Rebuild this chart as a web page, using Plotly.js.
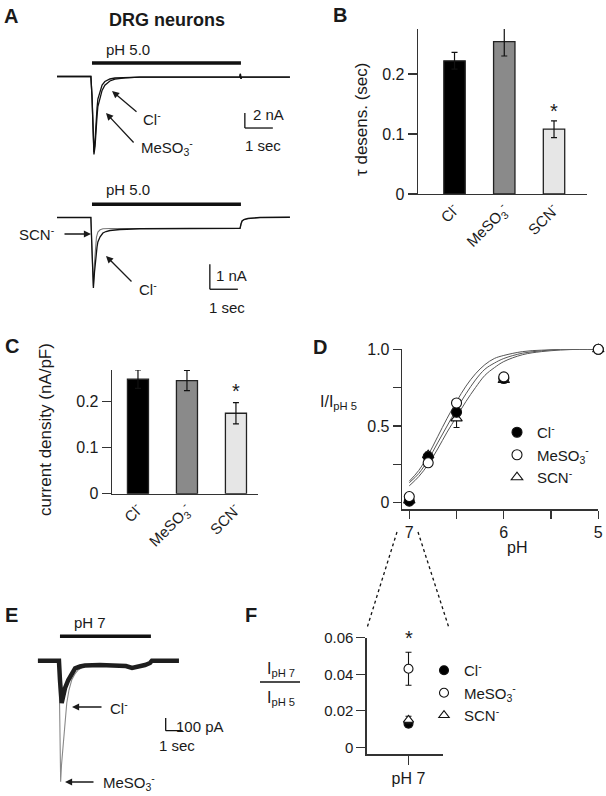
<!DOCTYPE html>
<html>
<head>
<meta charset="utf-8">
<script src="https://cdn.plot.ly/plotly-3.0.1.min.js"></script>
<style>
  html, body { margin: 0; padding: 0; background: #fff; }
  #fig { width: 606px; height: 796px; }
</style>
</head>
<body>
<div id="fig"></div>
<script>
// ---- data ----
const ions = ['Cl<sup>-</sup>', 'MeSO<sub>3</sub><sup>-</sup>', 'SCN<sup>-</sup>'];

// A, top: pH 5.0 response (s, nA)
const tA1 = [0, 1.21, 1.25, 1.29, 1.32, 1.36, 1.39, 1.43, 1.46, 1.54, 1.61, 1.71, 1.89, 2.07, 2.43, 2.96, 6.53, 6.55, 6.57, 6.6, 8.32];
const iA1Cl = [0, 0, -2.5, -7.1, -10.1, -8.5, -6.1, -4.2, -3.0, -1.8, -1.13, -0.67, -0.33, -0.2, -0.11, -0.07, -0.07, 0.35, -0.3, -0.07, -0.07];
const iA1Mes = [0, 0, -2.7, -7.5, -10.4, -9.3, -7.0, -5.3, -4.0, -2.7, -1.85, -1.15, -0.6, -0.35, -0.17, -0.09, -0.07, 0.35, -0.3, -0.07, -0.07];

// A, bottom (s, nA)
const tA2Cl = [0, 1.21, 1.25, 1.30, 1.34, 1.39, 1.43, 1.46, 1.54, 1.64, 1.75, 1.89, 2.25, 2.96, 4.04, 6.54, 6.57, 6.61, 6.68, 6.82, 7.25, 8.32];
const iA2Cl = [0, 0, -1.3, -2.82, -2.18, -1.5, -1.18, -0.98, -0.77, -0.62, -0.56, -0.52, -0.48, -0.45, -0.44, -0.43, -0.26, -0.14, -0.08, -0.04, 0, 0.01];
const tA2Scn = [0, 1.21, 1.25, 1.30, 1.34, 1.38, 1.41, 1.46, 1.54, 1.64, 1.89, 6.54, 6.57, 6.61, 6.68, 6.82, 7.25, 8.32];
const iA2Scn = [0, 0, -1.3, -2.74, -1.78, -1.14, -0.78, -0.58, -0.49, -0.45, -0.44, -0.43, -0.26, -0.14, -0.08, -0.04, 0, 0.01];
const phOnA = [1.25, 6.57];

// B: tau desensitisation (s)
const tauMean = [0.222, 0.254, 0.108];
const tauSem = [0.014, 0.024, 0.014];

// C: current density (nA/pF)
const densMean = [0.249, 0.246, 0.175];
const densSem = [0.02, 0.022, 0.023];

// D: pH dependence
const phPts = [7, 6.8, 6.5, 6, 5];
const dCl = [0.01, 0.30, 0.59, 0.81, 1.0];
const dClErr = [0.005, 0.02, 0.03, 0.02, 0];
const dMes = [0.04, 0.26, 0.65, 0.82, 1.0];
const dMesErr = [0.008, 0.02, 0.02, 0.015, 0];
const dScn = [0.015, 0.31, 0.55, 0.80, 1.0];
const dScnErr = [0.005, 0.02, 0.06, 0.02, 0];
const phFit = [7, 6.9, 6.8, 6.7, 6.6, 6.5, 6.4, 6.3, 6.2, 6.1, 6.0, 5.8, 5.6, 5.4, 5.2, 5.0];
const fit1 = [0.14, 0.21, 0.31, 0.43, 0.55, 0.66, 0.76, 0.84, 0.90, 0.94, 0.96, 0.985, 0.995, 1, 1, 1];
const fit2 = [0.13, 0.19, 0.28, 0.39, 0.50, 0.61, 0.71, 0.80, 0.87, 0.91, 0.94, 0.975, 0.99, 1, 1, 1];
const fit3 = [0.11, 0.17, 0.25, 0.35, 0.46, 0.56, 0.66, 0.75, 0.83, 0.88, 0.92, 0.965, 0.985, 0.995, 1, 1];

// E: pH 7 response (s, pA)
const tECl = [0, 1.25, 1.31, 1.41, 1.49, 1.61, 1.8, 2.02, 2.2, 2.49, 2.78, 3.66, 4.72, 5.19, 5.55, 5.9, 6.31, 6.61, 6.72, 8.31];
const iECl = [0, 0, -152, -333, -285, -215, -152, -97, -61, -46, -38, -34, -34, -42, -57, -50, -34, -18, 0, 0];
const tEMes = [0, 1.25, 1.30, 1.35, 1.40, 1.51, 1.61, 1.71, 1.84, 2.0, 2.19, 2.37, 2.78, 3.66, 4.72, 5.19, 5.55, 5.9, 6.31, 6.61, 6.72, 8.31];
const iEMes = [0, 0, -467, -953, -821, -624, -451, -333, -231, -152, -105, -74, -42, -34, -34, -42, -57, -50, -34, -18, 0, 0];
const phOnE = [1.31, 6.66];

// F: I pH7 / I pH5
const fMean = [0.013, 0.043, 0.015];
const fSem = [0.002, 0.009, 0.002];

// ---- layout helpers (pixel -> paper) ----
const W = 606, H = 796;
const px = x => x / W;
const py = y => 1 - y / H;
const domX = (a, b) => [a / W, b / W];
const domY = (top, bot) => [1 - bot / H, 1 - top / H];
const FONT = '"Liberation Sans", Arial, sans-serif';
const INK = '#1a1a1a';

function lab(text, x, y, size, opts) {
  return Object.assign({
    text: text, x: px(x), y: py(y), xref: 'paper', yref: 'paper',
    xanchor: 'center', yanchor: 'middle',
    showarrow: false, font: { size: size || 15, color: INK }
  }, opts || {});
}
function arrow(x, y, ax, ay) {
  return {
    text: '', x: px(x), y: py(y), xref: 'paper', yref: 'paper',
    showarrow: true, ax: ax, ay: ay, arrowhead: 2, arrowsize: 1.1,
    arrowwidth: 1.3, arrowcolor: INK
  };
}
function star(xa, ya, x, y, shift) {
  return { text: '*', x: x, y: y, xref: xa, yref: ya, xanchor: 'center', yanchor: 'middle',
    showarrow: false, font: { size: 20, color: INK }, yshift: shift };
}

const traces = [];
const trace = (x, y, xa, ya, color, width) => ({
  x: x, y: y, xaxis: xa, yaxis: ya, type: 'scatter', mode: 'lines',
  line: { color: color, width: width }, showlegend: false, hoverinfo: 'skip'
});

// A
traces.push(trace(tA1, iA1Mes, 'x', 'y', '#111', 1.3));
traces.push(trace(tA1, iA1Cl, 'x', 'y', '#111', 1.3));
traces.push(trace(tA2Scn, iA2Scn, 'x2', 'y2', '#777', 1.1));
traces.push(trace(tA2Cl, iA2Cl, 'x2', 'y2', '#111', 1.3));

// B, C bars
const barColors = ['#000000', '#8a8a8a', '#e6e6e6'];
function bars(mean, sem, xa, ya) {
  return {
    type: 'bar', x: [0, 1, 2], y: mean, xaxis: xa, yaxis: ya, width: 0.43,
    marker: { color: barColors, line: { color: '#222', width: 1.3 } },
    error_y: { type: 'data', array: sem, color: '#111', thickness: 1.2, width: 3 },
    showlegend: false, hoverinfo: 'skip', cliponaxis: false
  };
}
traces.push(bars(tauMean, tauSem, 'x3', 'y3'));
traces.push(bars(densMean, densSem, 'x4', 'y4'));

// D fits
[fit1, fit2, fit3].forEach(f => {
  const t = trace(phFit, f, 'x5', 'y5', '#555', 1);
  t.line.shape = 'spline';
  traces.push(t);
});
const sym = [
  { symbol: 'circle', color: '#000' },
  { symbol: 'circle', color: '#fff' },
  { symbol: 'triangle-up', color: '#fff' }
];
function pts(x, y, err, i, xa, ya, legend, size) {
  return {
    type: 'scatter', mode: 'markers', x: x, y: y, xaxis: xa, yaxis: ya,
    name: ions[i], legend: legend, legendrank: i + 1, cliponaxis: false, hoverinfo: 'skip',
    marker: { symbol: sym[i].symbol, color: sym[i].color, size: size, line: { color: '#111', width: 1.1 } },
    error_y: { type: 'data', array: err, color: '#111', thickness: 1.1, width: 3 }
  };
}
traces.push(pts(phPts, dScn, dScnErr, 2, 'x5', 'y5', 'legend', 10));
traces.push(pts(phPts, dCl, dClErr, 0, 'x5', 'y5', 'legend', 10));
traces.push(pts(phPts, dMes, dMesErr, 1, 'x5', 'y5', 'legend', 10));

// E
traces.push(trace(tEMes, iEMes, 'x6', 'y6', '#888', 1.1));
traces.push(trace(tECl, iECl, 'x6', 'y6', '#1e1e1e', 4.5));

// F
[0, 2, 1].forEach(i => {
  traces.push(pts([0], [fMean[i]], [fSem[i]], i, 'x7', 'y7', 'legend2', 9));
});

// ---- axes ----
const hidden = (dom, range) => ({ domain: dom, range: range, visible: false, fixedrange: true });
const lineAx = {
  showline: true, linecolor: '#333', linewidth: 1.3, ticks: 'outside', ticklen: 9,
  tickcolor: '#333', tickwidth: 1.3, showgrid: false, zeroline: false,
  tickfont: { size: 16, color: INK }
};
const ax = (o) => Object.assign({}, lineAx, o);

const layout = {
  width: W, height: H, margin: { l: 0, r: 0, t: 0, b: 0 },
  paper_bgcolor: '#fff', plot_bgcolor: 'rgba(0,0,0,0)',
  font: { family: FONT, color: INK, size: 15 },
  xaxis: Object.assign(hidden(domX(57, 300), [0, 8.68]), { anchor: 'y' }),
  yaxis: Object.assign(hidden(domY(55, 170), [-12.47, 2.87]), { anchor: 'x' }),
  xaxis2: Object.assign(hidden(domX(57, 300), [0, 8.68]), { anchor: 'y2' }),
  yaxis2: Object.assign(hidden(domY(195, 300), [-3.3, 0.9]), { anchor: 'x2' }),
  xaxis3: ax({ domain: domX(418, 587), range: [-0.734, 2.663], anchor: 'y3', ticks: '',
    tickvals: [0, 1, 2], ticktext: ions, tickangle: -45, tickfont: { size: 15, color: INK } }),
  yaxis3: ax({ domain: domY(29, 194), range: [0, 0.275], anchor: 'x3',
    tickvals: [0, 0.1, 0.2], ticktext: ['0', '0.1', '0.2'] }),
  xaxis4: ax({ domain: domX(112, 258), range: [-0.53, 2.45], anchor: 'y4', ticks: '',
    tickvals: [0, 1, 2], ticktext: ions, tickangle: -45, tickfont: { size: 15, color: INK } }),
  yaxis4: ax({ domain: domY(370, 493.7), range: [0, 0.269], anchor: 'x4',
    tickvals: [0, 0.1, 0.2], ticktext: ['0', '0.1', '0.2'] }),
  xaxis5: ax({ domain: domX(402, 598.3), range: [7.077, 5.0], anchor: 'y5', ticklen: 8,
    tickvals: [7, 6.5, 6, 5.5, 5], ticktext: ['7', '', '6', '', '5'] }),
  yaxis5: ax({ domain: domY(349.3, 509.3), range: [-0.043, 1.0], anchor: 'x5', ticklen: 8,
    tickvals: [0, 0.25, 0.5, 0.75, 1], ticktext: ['0', '', '0.5', '', '1.0'] }),
  xaxis6: Object.assign(hidden(domX(37.7, 190), [0, 8.96]), { anchor: 'y6' }),
  yaxis6: Object.assign(hidden(domY(625, 790), [-1018, 281]), { anchor: 'x6' }),
  xaxis7: ax({ domain: domX(366.7, 442.7), range: [-0.55, 0.45], anchor: 'y7',
    tickvals: [0], ticktext: ['pH 7'] }),
  yaxis7: ax({ domain: domY(637.7, 754.3), range: [-0.0038, 0.06], anchor: 'x7',
    tickvals: [0, 0.02, 0.04, 0.06], ticktext: ['0', '0.02', '0.04', '0.06'], tickfont: { size: 15, color: INK } }),
  legend: { x: px(497), y: py(416), xanchor: 'left', yanchor: 'top', bgcolor: 'rgba(0,0,0,0)',
    font: { size: 15, color: INK }, tracegroupgap: 0 },
  legend2: { x: px(424), y: py(654), xanchor: 'left', yanchor: 'top', bgcolor: 'rgba(0,0,0,0)',
    font: { size: 15, color: INK }, tracegroupgap: 0 },
  showlegend: true
};

// ---- stimulus bars, scale bars, connectors ----
const seg = (xr, yr, x0, y0, x1, y1, w, dash) => ({
  type: 'line', xref: xr, yref: yr, x0: x0, y0: y0, x1: x1, y1: y1,
  line: { color: '#111', width: w, dash: dash || 'solid' }
});
layout.shapes = [
  seg('x', 'y', phOnA[0], 1.8, phOnA[1], 1.8, 3.5),
  seg('x', 'y', 6.71, -4.87, 6.71, -6.87, 1.3),
  seg('x', 'y', 6.71, -6.87, 7.71, -6.87, 1.3),
  seg('x2', 'y2', phOnA[0], 0.53, phOnA[1], 0.53, 3.5),
  seg('x2', 'y2', 5.46, -1.87, 5.46, -2.87, 1.3),
  seg('x2', 'y2', 5.46, -2.87, 6.46, -2.87, 1.3),
  seg('x6', 'y6', phOnE[0], 192, phOnE[1], 192, 3.5),
  seg('x6', 'y6', 7.53, -451, 7.53, -551, 1.3),
  seg('x6', 'y6', 7.53, -551, 8.53, -551, 1.3),
  seg('paper', 'paper', px(397), py(532), px(367), py(628), 1.3, 'dot'),
  seg('paper', 'paper', px(418), py(532), px(449), py(628), 1.3, 'dot'),
  seg('paper', 'paper', px(260), py(682), px(300), py(682), 1.3)
];

// ---- text ----
const bold = s => '<b>' + s + '</b>';
layout.annotations = [
  lab(bold('A'), 11, 16, 20), lab(bold('B'), 340, 15, 20), lab(bold('C'), 12, 346, 20),
  lab(bold('D'), 320, 347, 20), lab(bold('E'), 11, 615, 20), lab(bold('F'), 251, 615, 20),
  lab(bold('DRG neurons'), 167, 20, 18),
  // A top
  lab('pH 5.0', 128, 50, 15),
  lab('Cl<sup>-</sup>', 141, 118, 15, { xanchor: 'left' }),
  lab('MeSO<sub>3</sub><sup>-</sup>', 139, 147, 15, { xanchor: 'left' }),
  lab('2 nA', 251, 114, 15, { xanchor: 'left' }),
  lab('1 sec', 243, 146, 15, { xanchor: 'left' }),
  arrow(112, 91, 26, 22), arrow(106, 113, 29, 31),
  // A bottom
  lab('pH 5.0', 128, 190, 15),
  lab('SCN<sup>-</sup>', 17, 233, 15, { xanchor: 'left' }),
  lab('Cl<sup>-</sup>', 137, 288, 15, { xanchor: 'left' }),
  lab('1 nA', 214, 275, 15, { xanchor: 'left' }),
  lab('1 sec', 207, 307, 15, { xanchor: 'left' }),
  arrow(91, 234, -28, 0), arrow(106, 256, 27, 27),
  // B
  lab('τ desens. (sec)', 362, 120, 17, { textangle: -90 }),
  star('x3', 'y3', 2, 0.145, -4),
  // C
  lab('current density (nA/pF)', 46, 430, 17, { textangle: -90 }),
  star('x4', 'y4', 2, 0.232, -4),
  // D
  lab('I/I<sub>pH 5</sub>', 318, 402, 16, { xanchor: 'left' }),
  lab('pH', 517, 547, 16),
  // E
  lab('pH 7', 90, 622, 15),
  lab('Cl<sup>-</sup>', 108, 707, 15, { xanchor: 'left' }),
  lab('MeSO<sub>3</sub><sup>-</sup>', 101, 782, 15, { xanchor: 'left' }),
  lab('100 pA', 174, 726, 15, { xanchor: 'left' }),
  lab('1 sec', 157, 745, 15, { xanchor: 'left' }),
  arrow(72, 707, 31, 0), arrow(65, 782, 30, 0),
  // F
  lab('I<sub>pH 7</sub>', 281, 669, 16),
  lab('I<sub>pH 5</sub>', 281, 698, 16),
  star('x7', 'y7', 0, 0.06, 0)
];

Plotly.newPlot('fig', traces, layout, { staticPlot: true, displayModeBar: false });
</script>
</body>
</html>
